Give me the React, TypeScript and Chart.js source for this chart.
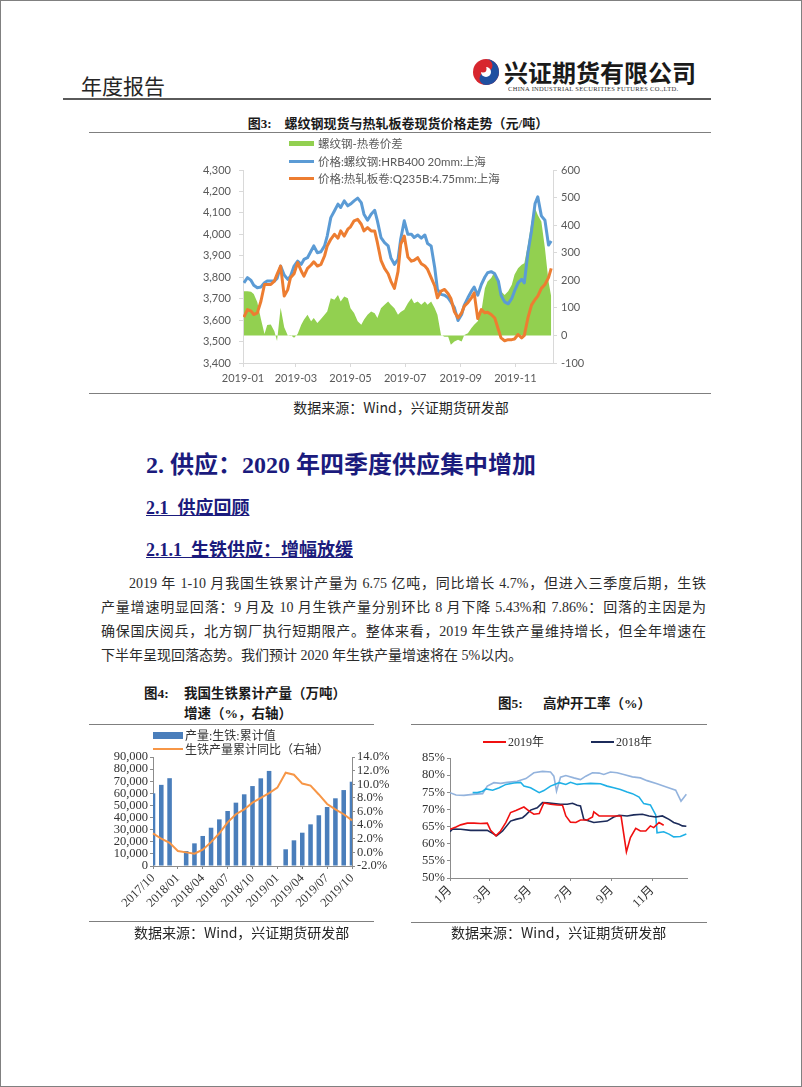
import React, { useEffect, useRef } from 'react';
import { Chart, registerables } from 'chart.js';
Chart.register(...registerables);

// ---------------- Chart 3: rebar vs HRC spot prices (2019) ----------------
const dates3 = [
  '2019-01-02','2019-01-06','2019-01-10','2019-01-13','2019-01-17','2019-01-21','2019-01-25','2019-01-28',
  '2019-02-01','2019-02-05','2019-02-08','2019-02-12','2019-02-16','2019-02-20','2019-02-23','2019-02-27',
  '2019-03-03','2019-03-07','2019-03-10','2019-03-14','2019-03-18','2019-03-21','2019-03-25','2019-03-29',
  '2019-04-02','2019-04-05','2019-04-09','2019-04-13','2019-04-17','2019-04-20','2019-04-24','2019-04-28',
  '2019-05-01','2019-05-05','2019-05-09','2019-05-13','2019-05-16','2019-05-20','2019-05-24','2019-05-28','2019-05-31',
  '2019-06-04','2019-06-08','2019-06-12','2019-06-15','2019-06-19','2019-06-23','2019-06-26','2019-06-30',
  '2019-07-04','2019-07-08','2019-07-11','2019-07-15','2019-07-19','2019-07-23','2019-07-26','2019-07-30',
  '2019-08-03','2019-08-06','2019-08-10','2019-08-14','2019-08-18','2019-08-21','2019-08-25','2019-08-29',
  '2019-09-02','2019-09-05','2019-09-09','2019-09-13','2019-09-16','2019-09-20','2019-09-24','2019-09-28',
  '2019-10-01','2019-10-05','2019-10-09','2019-10-13','2019-10-16','2019-10-20','2019-10-24','2019-10-28','2019-10-31',
  '2019-11-04','2019-11-08','2019-11-11','2019-11-15','2019-11-19','2019-11-23','2019-11-26','2019-11-30',
  '2019-12-04','2019-12-08','2019-12-11',
];
const rebar3 = [
  3774,3798,3785,3763,3751,3754,3774,3782,3782,3782,
  3794,3852,3810,3790,3805,3852,3875,3860,3883,3891,
  3922,3946,3914,3919,3946,3992,4078,4109,4141,4125,
  4156,4133,4141,4156,4169,4148,4094,4066,4094,4112,
  4063,3985,3961,3946,3891,3860,3883,3977,4063,4000,
  4000,3985,3997,3982,3997,3957,3946,3844,3743,3720,
  3716,3704,3685,3657,3598,3626,3670,3704,3735,3754,
  3716,3766,3801,3821,3826,3816,3782,3716,3685,3676,
  3701,3735,3774,3790,3774,3914,4016,4144,4175,4086,
  4066,3950,3969,
];
const hrc3 = [
  3614,3649,3642,3626,3634,3688,3766,3766,3766,3782,
  3813,3852,3712,3743,3798,3816,3868,3829,3805,3841,
  3857,3872,3852,3860,3899,3946,3977,4000,3982,4016,
  3992,4024,4035,4063,4070,4047,4016,4031,4016,4016,
  3961,3879,3841,3816,3782,3748,3826,3953,3992,3894,
  3875,3879,3891,3863,3852,3837,3798,3759,3704,3735,
  3743,3723,3701,3639,3610,3634,3665,3681,3704,3727,
  3607,3649,3634,3637,3626,3610,3556,3517,3504,3509,
  3509,3512,3533,3517,3529,3610,3670,3696,3712,3748,
  3766,3798,3841,
];
const spread3 = [
  160,160,158,150,120,60,5,38,40,15,
  -20,100,30,0,2,-8,5,39,57,75,
  51,63,45,60,75,87,135,129,147,123,
  141,135,99,81,51,39,57,75,87,80,
  63,99,111,123,111,99,75,85,93,117,
  135,117,123,111,123,111,123,99,75,2,
  -5,-5,-34,-22,-16,-22,2,8,27,39,
  51,87,171,196,208,232,196,160,147,160,
  184,220,244,256,262,329,413,461,437,413,
  316,196,141,
];
const xTickLabels3 = ['2019-01', '2019-03', '2019-05', '2019-07', '2019-09', '2019-11'];
const legend3 = ['螺纹钢-热卷价差', '价格:螺纹钢:HRB400 20mm:上海', '价格:热轧板卷:Q235B:4.75mm:上海'];

// ---------------- Chart 4: pig iron cumulative output & YoY ----------------
const months4 = [
  '2017/10','2017/11','2017/12','2018/01','2018/02','2018/03','2018/04','2018/05','2018/06',
  '2018/07','2018/08','2018/09','2018/10','2018/11','2018/12','2019/01','2019/02','2019/03',
  '2019/04','2019/05','2019/06','2019/07','2019/08','2019/09','2019/10',
];
const output4 = [
  60000, 67000, 72500, null, 12400, 18700, 24800, 31600, 38500,
  45400, 52300, 59200, 66000, 72400, 78500, null, 13800, 21200,
  27500, 34400, 41900, 48700, 55900, 62700, 69600,
];
const yoy4 = [
  2.8, 2.0, 1.4, 0.2, 0.0, -0.2, 0.4, 1.5, 2.8,
  4.4, 5.6, 6.3, 7.3, 8.0, 8.7, 9.5, 11.7, 11.4,
  10.1, 9.8, 8.5, 7.1, 6.3, 5.6, 4.7,
];
const legend4 = ['产量:生铁:累计值', '生铁产量累计同比（右轴）'];

// ---------------- Chart 5: blast furnace operating rate (%) ----------------
// x values are day-of-year
const days2019 = [0,9,16,26,36,46,56,61,69,76,84,91,99,111,119,126,134,141,151,161,169,174,181,189,196,206,214,216,224,234,241,254,257,265,271,279,286,294,301,306,314,321];
const rate2019 = [64.2,64.9,65.5,66.0,66.0,65.9,66.0,63.9,62.3,63.7,66.2,69.1,69.7,70.7,69.5,68.6,68.8,71.9,71.5,71.3,71.2,68.1,66.3,66.2,66.9,66.9,67.8,69.3,68.1,68.1,68.1,68.1,68.0,57.6,61.8,64.5,63.7,63.7,65.2,64.7,66.2,65.4];
const days2018 = [0,4,16,31,46,56,64,70,79,91,99,109,114,121,131,139,146,156,166,176,184,191,196,201,209,216,226,236,246,254,266,276,289,299,309,319,329,336,344,349,355];
const rate2018 = [63.5,64.3,64.2,63.9,63.9,63.9,63.0,62.3,63.7,66.6,67.1,67.6,68.4,69.8,70.5,72.0,71.9,71.7,71.5,71.5,71.8,71.2,71.0,67.1,66.6,66.2,66.4,66.6,67.8,68.3,68.1,68.4,68.6,68.1,67.8,68.1,67.1,66.2,65.7,65.2,65.1];
const days2017 = [34,41,49,54,64,74,84,96,106,111,121,134,141,151,164,174,181,191,201,211,226,236,246,256,266,274,284,291,301,309,311,321,329,336,346,355];
const rate2017 = [74.9,74.9,75.3,76.0,75.6,76.3,77.3,77.7,77.9,76.8,76.3,74.9,75.5,76.8,77.8,77.3,77.9,77.3,77.5,77.6,77.5,76.8,76.3,75.8,75.1,74.6,73.6,71.7,71.3,68.4,63.2,63.5,62.8,62.0,62.1,62.8];
const days2016 = [0,9,21,34,49,56,66,76,86,101,114,126,139,151,156,160,166,174,186,196,204,214,224,231,241,251,261,274,286,296,311,326,339,347,355];
const rate2016 = [74.9,74.2,74.1,74.4,74.6,76.8,77.8,77.6,77.9,78.2,79.0,80.7,81.1,80.9,79.7,75.3,79.4,79.9,79.2,78.7,79.7,80.7,80.6,80.2,80.9,80.7,80.2,79.5,79.2,78.4,77.5,76.5,75.6,72.4,74.4];
const xTickLabels5 = ['1月', '3月', '5月', '7月', '9月', '11月'];
const legend5 = ['2019年', '2018年'];

// ---------------- helpers ----------------
const doy = (s: string) => {
  const [y, m, d] = s.split('-').map(Number);
  return (Date.UTC(y, m - 1, d) - Date.UTC(y, 0, 1)) / 86400000;
};
const SERIF = "'Liberation Serif', 'Noto Sans CJK SC', serif";
const CJK = "'Noto Sans CJK SC', sans-serif";
const XL = "'Lato', 'Noto Sans CJK SC', sans-serif";
const NAVY = '#1B1B7D';

function ChartCanvas({ left, top, width, height, make }: any) {
  const ref = useRef<HTMLCanvasElement>(null);
  useEffect(() => {
    const c = new Chart(ref.current as HTMLCanvasElement, make());
    return () => c.destroy();
  }, []);
  return (
    <canvas
      ref={ref}
      width={width}
      height={height}
      style={{ position: 'absolute', left, top, width, height }}
    />
  );
}

function T({ x, cy, size, children, style, cx }: any) {
  return (
    <div
      style={{
        position: 'absolute',
        left: cx !== undefined ? cx : x,
        top: cy - size / 2,
        fontSize: size,
        lineHeight: `${size}px`,
        height: size,
        whiteSpace: 'nowrap',
        transform: cx !== undefined ? 'translateX(-50%)' : undefined,
        ...style,
      }}
    >
      {children}
    </div>
  );
}

function HLine({ x, y, w, h = 1, color = '#7f7f7f' }: any) {
  return <div style={{ position: 'absolute', left: x, top: y, width: w, height: h, background: color }} />;
}

// ---------------- chart configs ----------------
const make3 = () => {
  const xs = dates3.map(doy);
  const tickDays = xTickLabels3.map((l) => doy(l + '-01'));
  const tickFont = { family: XL, size: 11 };
  const axisGrid = { display: true, drawOnChartArea: false, drawTicks: true, tickLength: 4, color: '#D9D9D9' };
  return {
    type: 'line',
    data: {
      datasets: [
        { label: legend3[2], data: hrc3.map((v, i) => ({ x: xs[i], y: v })), yAxisID: 'y', borderColor: '#ED7D31', borderWidth: 3, pointRadius: 0, order: 1, borderJoinStyle: 'round' },
        { label: legend3[1], data: rebar3.map((v, i) => ({ x: xs[i], y: v })), yAxisID: 'y', borderColor: '#5B9BD5', borderWidth: 3, pointRadius: 0, order: 2, borderJoinStyle: 'round' },
        { label: legend3[0], data: spread3.map((v, i) => ({ x: xs[i], y: v })), yAxisID: 'y1', borderWidth: 0, borderColor: 'rgba(0,0,0,0)', backgroundColor: '#92D050', fill: 'origin', pointRadius: 0, order: 3 },
      ],
    },
    options: {
      animation: false,
      responsive: false,
      layout: { padding: { top: 19, left: 0, right: 0, bottom: 0 } },
      plugins: { legend: { display: false }, tooltip: { enabled: false } },
      scales: {
        x: {
          type: 'linear', min: 0, max: 346,
          afterBuildTicks: (s: any) => { s.ticks = tickDays.map((v) => ({ value: v })); },
          afterFit: (s: any) => { s.height = 28; },
          ticks: { callback: (v: any) => xTickLabels3[tickDays.indexOf(v)] ?? '', font: tickFont, color: '#595959', maxRotation: 0, autoSkip: false, padding: 5 },
          grid: axisGrid,
          border: { display: true, color: '#D9D9D9' },
        },
        y: {
          position: 'left', min: 3400, max: 4300,
          afterFit: (s: any) => { s.width = 52; },
          ticks: { stepSize: 100, autoSkip: false, callback: (v: any) => Number(v).toLocaleString('en-US'), font: tickFont, color: '#595959', padding: 8 },
          grid: axisGrid,
          border: { display: true, color: '#D9D9D9' },
        },
        y1: {
          position: 'right', min: -100, max: 600,
          afterFit: (s: any) => { s.width = 38; },
          ticks: { stepSize: 100, autoSkip: false, font: tickFont, color: '#595959', padding: 4 },
          grid: axisGrid,
          border: { display: true, color: '#D9D9D9' },
        },
      },
    },
  };
};

const make4 = () => {
  const tickFont = { family: SERIF, size: 12.5 };
  const grid = { display: true, drawOnChartArea: false, drawTicks: true, tickLength: 3, color: '#8c8c8c', offset: false };
  return {
    type: 'bar',
    data: {
      labels: months4,
      datasets: [
        { type: 'line', label: legend4[1], data: yoy4, yAxisID: 'y1', borderColor: '#F79646', borderWidth: 2, pointRadius: 0, order: 1, spanGaps: true },
        { type: 'bar', label: legend4[0], data: output4, yAxisID: 'y', backgroundColor: '#4A7EBB', barPercentage: 0.55, categoryPercentage: 1, order: 2 },
      ],
    },
    options: {
      animation: false,
      responsive: false,
      layout: { padding: { top: 11, left: 0, right: 0, bottom: 0 } },
      plugins: { legend: { display: false }, tooltip: { enabled: false } },
      scales: {
        x: {
          offset: false,
          afterBuildTicks: (s: any) => { s.ticks = s.ticks.filter((t: any) => t.value % 3 === 0); },
          afterFit: (s: any) => { s.height = 58; },
          ticks: { autoSkip: false, maxRotation: 45, minRotation: 45, font: tickFont, color: '#333', padding: 2, callback: (v: any) => months4[v] },
          grid,
          border: { display: true, color: '#8c8c8c' },
        },
        y: {
          position: 'left', min: 0, max: 90000,
          afterFit: (s: any) => { s.width = 57; },
          ticks: { stepSize: 10000, autoSkip: false, callback: (v: any) => Number(v).toLocaleString('en-US'), font: tickFont, color: '#333', padding: 2 },
          grid,
          border: { display: true, color: '#8c8c8c' },
        },
        y1: {
          position: 'right', min: -2, max: 14,
          afterFit: (s: any) => { s.width = 49; },
          ticks: { stepSize: 2, autoSkip: false, callback: (v: any) => Number(v).toFixed(1) + '%', font: tickFont, color: '#333', padding: 2 },
          grid,
          border: { display: true, color: '#8c8c8c' },
        },
      },
    },
  };
};

const make5 = () => {
  const tickFont = { family: SERIF, size: 12.5 };
  const tickDays = xTickLabels5.map((l) => doy(`2019-${parseInt(l, 10)}-01`));
  const grid = { display: true, drawOnChartArea: false, drawTicks: true, tickLength: 3, color: '#8c8c8c' };
  const pts = (d: number[], v: number[]) => v.map((y, i) => ({ x: d[i], y }));
  const ds = (label: string, d: number[], v: number[], color: string, order: number) => ({
    label, data: pts(d, v), borderColor: color, borderWidth: 1.6, pointRadius: 0, order,
  });
  return {
    type: 'line',
    data: {
      datasets: [
        ds(legend5[0], days2019, rate2019, '#F01010', 1),
        ds(legend5[1], days2018, rate2018, '#1C2B5A', 2),
        ds('2017年', days2017, rate2017, '#1FB0E6', 3),
        ds('2016年', days2016, rate2016, '#93B3DD', 4),
      ],
    },
    options: {
      animation: false,
      responsive: false,
      layout: { padding: { top: 12, left: 0, right: 14, bottom: 0 } },
      plugins: { legend: { display: false }, tooltip: { enabled: false } },
      scales: {
        x: {
          type: 'linear', min: 0, max: 356,
          afterBuildTicks: (s: any) => { s.ticks = tickDays.map((v) => ({ value: v })); },
          afterFit: (s: any) => { s.height = 46; },
          ticks: { callback: (v: any) => xTickLabels5[tickDays.indexOf(v)] ?? '', autoSkip: false, maxRotation: 45, minRotation: 45, font: tickFont, color: '#333', padding: 2 },
          grid,
          border: { display: true, color: '#8c8c8c' },
        },
        y: {
          min: 50, max: 85,
          afterFit: (s: any) => { s.width = 49; },
          ticks: { stepSize: 5, autoSkip: false, callback: (v: any) => v + '%', font: tickFont, color: '#333', padding: 2 },
          grid,
          border: { display: true, color: '#8c8c8c' },
        },
      },
    },
  };
};

function Logo() {
  return (
    <svg width={28} height={28} viewBox="0 0 28 28" style={{ position: 'absolute', left: 471, top: 57 }}>
      <circle cx={14} cy={14} r={13} fill="#D7262E" />
      <path d="M14 1 A13 13 0 0 1 14 27 A6.5 6.5 0 0 1 14 14 A6.5 6.5 0 0 0 14 1 Z" fill="#1F4FA0" />
      <circle cx={14} cy={14} r={5} fill="#ffffff" />
      <circle cx={11} cy={11} r={3.5} fill="#D7262E" />
    </svg>
  );
}

export default function App() {
  useEffect(() => {
    document.body.style.margin = '0';
    document.body.style.overflow = 'hidden';
  }, []);
  const body = { fontFamily: SERIF, color: '#2b2b2b' };
  const legendText3 = { fontFamily: XL, color: '#595959' };
  return (
    <div style={{ position: 'absolute', left: 0, top: 0, width: 802, height: 1087, background: '#fff', boxSizing: 'border-box', border: '1px solid #808080', overflow: 'hidden' }}>
      {/* header */}
      <T x={80} cy={84} size={21} style={{ fontFamily: CJK, color: '#262626' }}>年度报告</T>
      <Logo />
      <T x={503} cy={71} size={24} style={{ fontFamily: CJK, fontWeight: 700, color: '#1a1a1a' }}>兴证期货有限公司</T>
      <div style={{ position: 'absolute', left: 507, top: 84, fontSize: 13, lineHeight: '13px', fontFamily: SERIF, whiteSpace: 'nowrap', transform: 'scale(0.5)', transformOrigin: 'left top', color: '#333', letterSpacing: 0.6 }}>
        CHINA INDUSTRIAL SECURITIES FUTURES CO.,LTD.
      </div>
      <HLine x={62} y={97} w={648} h={2} color="#5a5a5a" />

      {/* chart 3 */}
      <T cx={397} cy={122} size={13} style={{ fontFamily: SERIF, fontWeight: 700, color: '#1a1a1a' }}>
        图3:&nbsp;&nbsp;&nbsp;&nbsp;螺纹钢现货与热轧板卷现货价格走势（元/吨）
      </T>
      <HLine x={88} y={131} w={622} />
      <ChartCanvas left={190} top={150} width={400} height={240} make={make3} />
      <HLine x={288} y={140} w={25} h={5} color="#92D050" />
      <T x={317} cy={142.5} size={11.5} style={legendText3}>{legend3[0]}</T>
      <HLine x={288} y={159} w={25} h={3} color="#5B9BD5" />
      <T x={317} cy={160.5} size={11.5} style={legendText3}>{legend3[1]}</T>
      <HLine x={288} y={176} w={25} h={3} color="#ED7D31" />
      <T x={317} cy={177.5} size={11.5} style={legendText3}>{legend3[2]}</T>
      <HLine x={88} y={392} w={622} />
      <T cx={400} cy={406} size={14} style={{ fontFamily: CJK, color: '#262626' }}>数据来源：Wind，兴证期货研发部</T>

      {/* section headings */}
      <T x={145} cy={464} size={24} style={{ fontFamily: SERIF, fontWeight: 700, color: NAVY }}>2. 供应：2020 年四季度供应集中增加</T>
      <T x={145} cy={507} size={18} style={{ fontFamily: SERIF, fontWeight: 700, color: NAVY, textDecoration: 'underline' }}>2.1&nbsp;&nbsp;供应回顾</T>
      <T x={145} cy={549} size={18} style={{ fontFamily: SERIF, fontWeight: 700, color: NAVY, textDecoration: 'underline' }}>2.1.1&nbsp;&nbsp;生铁供应：增幅放缓</T>

      {/* paragraph */}
      <T x={128} cy={583} size={14} style={{ ...body, width: 577, textAlign: 'justify', textAlignLast: 'justify' }}>
        2019 年 1-10 月我国生铁累计产量为 6.75 亿吨，同比增长 4.7%，但进入三季度后期，生铁
      </T>
      <T x={100} cy={607} size={14} style={{ ...body, width: 605, textAlign: 'justify', textAlignLast: 'justify' }}>
        产量增速明显回落：9 月及 10 月生铁产量分别环比 8 月下降 5.43%和 7.86%：回落的主因是为
      </T>
      <T x={100} cy={631} size={14} style={{ ...body, width: 605, textAlign: 'justify', textAlignLast: 'justify' }}>
        确保国庆阅兵，北方钢厂执行短期限产。整体来看，2019 年生铁产量维持增长，但全年增速在
      </T>
      <T x={100} cy={655} size={14} style={body}>
        下半年呈现回落态势。我们预计 2020 年生铁产量增速将在 5%以内。
      </T>

      {/* chart 4 */}
      <T x={143} cy={693} size={13.5} style={{ fontFamily: SERIF, fontWeight: 700, color: '#1a1a1a' }}>图4:</T>
      <T x={183} cy={693} size={13.5} style={{ fontFamily: SERIF, fontWeight: 700, color: '#1a1a1a' }}>我国生铁累计产量（万吨）</T>
      <T x={183} cy={713} size={13.5} style={{ fontFamily: SERIF, fontWeight: 700, color: '#1a1a1a' }}>增速（%，右轴）</T>
      <HLine x={88} y={723} w={285} />
      <ChartCanvas left={95} top={745} width={305} height={178} make={make4} />
      <HLine x={152} y={731} w={30} h={7} color="#4A7EBB" />
      <T x={184} cy={734.5} size={12} style={{ fontFamily: SERIF, color: '#333' }}>{legend4[0]}</T>
      <HLine x={152} y={747} w={30} h={2} color="#F79646" />
      <T x={184} cy={748.5} size={12} style={{ fontFamily: SERIF, color: '#333' }}>{legend4[1]}</T>
      <HLine x={88} y={920} w={285} />
      <T x={133} cy={931} size={14} style={{ fontFamily: CJK, color: '#262626' }}>数据来源：Wind，兴证期货研发部</T>

      {/* chart 5 */}
      <T x={497} cy={703} size={13.5} style={{ fontFamily: SERIF, fontWeight: 700, color: '#1a1a1a' }}>图5:</T>
      <T x={542} cy={703} size={13.5} style={{ fontFamily: SERIF, fontWeight: 700, color: '#1a1a1a' }}>高炉开工率（%）</T>
      <HLine x={410} y={723} w={296} />
      <ChartCanvas left={400} top={745} width={300} height={178} make={make5} />
      <HLine x={482} y={740} w={23} h={2} color="#F01010" />
      <T x={507} cy={741} size={12} style={{ fontFamily: SERIF, color: '#333' }}>{legend5[0]}</T>
      <HLine x={590} y={740} w={23} h={2} color="#1C2B5A" />
      <T x={615} cy={741} size={12} style={{ fontFamily: SERIF, color: '#333' }}>{legend5[1]}</T>
      <HLine x={410} y={921} w={296} />
      <T x={450} cy={931} size={14} style={{ fontFamily: CJK, color: '#262626' }}>数据来源：Wind，兴证期货研发部</T>
    </div>
  );
}
